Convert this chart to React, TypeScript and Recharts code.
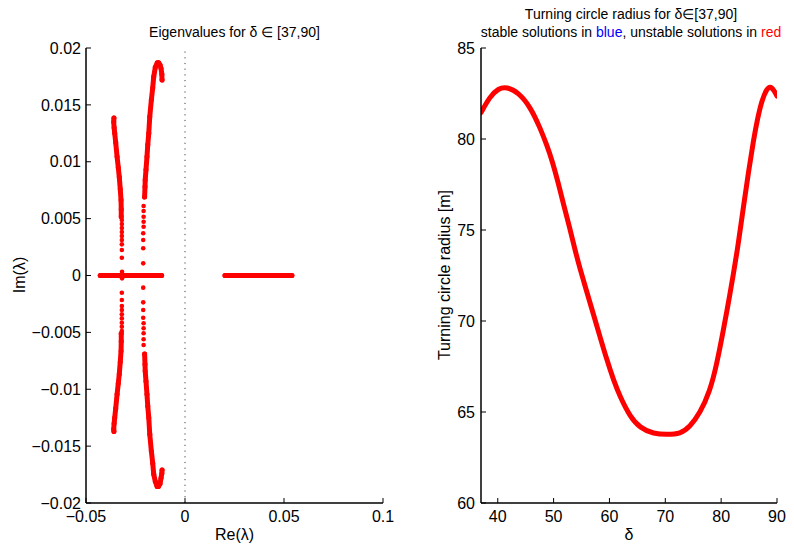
import React from 'react';
import {
  ScatterChart, Scatter, LineChart, Line, XAxis, YAxis, ReferenceLine,
} from 'recharts';

const FONT = '"Liberation Sans", Arial, Helvetica, sans-serif';
const RED = '#ff0000';

// ---------- Left plot: eigenvalues (Re, Im) ----------
const realBarNeg: [number, number][] = [[-0.0428, 0], [-0.0118, 0]];
const realBarPos: [number, number][] = [[0.0202, 0], [0.054, 0]];

const leftBranchUpperDense: [number, number][] = [
  [-0.0322, 0.00517], [-0.0322, 0.0058], [-0.0323, 0.00663], [-0.0327, 0.0076],
  [-0.0332, 0.00868], [-0.0337, 0.0095], [-0.0343, 0.01044], [-0.035, 0.0117],
  [-0.0355, 0.0125], [-0.0358, 0.013], [-0.036, 0.0135], [-0.0359, 0.01384],
];
const leftBranchLowerDense: [number, number][] = [
  [-0.0322, -0.0051], [-0.0322, -0.0058], [-0.0323, -0.00663], [-0.0327, -0.0076],
  [-0.0332, -0.00868], [-0.0337, -0.0095], [-0.0343, -0.01044], [-0.035, -0.0117],
  [-0.0355, -0.0125], [-0.0358, -0.013], [-0.036, -0.0135], [-0.0359, -0.01372],
];
const leftBranchSparse: [number, number][] = [
  [-0.0319, 0.00488], [-0.0319, 0.00453], [-0.0319, 0.00418], [-0.0319, 0.00383],
  [-0.0319, 0.00347], [-0.0319, 0.00312], [-0.0319, 0.00274], [-0.0319, 0.00224],
  [-0.0319, 0.00156], [-0.0318, 0.00033], [-0.0318, -0.00025], [-0.0319, -0.00151],
  [-0.0319, -0.00215], [-0.0319, -0.00268], [-0.0319, -0.00303], [-0.0319, -0.00341],
  [-0.0319, -0.00377], [-0.0319, -0.00415], [-0.0319, -0.0045], [-0.0319, -0.00488],
];

const rightBranchUpperDense: [number, number][] = [
  [-0.0204, 0.0069], [-0.0202, 0.0078], [-0.0201, 0.00839], [-0.0197, 0.0093],
  [-0.0192, 0.01044], [-0.0188, 0.0115], [-0.0183, 0.0125], [-0.0178, 0.01396],
  [-0.017, 0.01542], [-0.0163, 0.0165], [-0.0158, 0.01747], [-0.015, 0.0183],
  [-0.014, 0.0187], [-0.0133, 0.0187], [-0.0126, 0.0185], [-0.0121, 0.0182],
  [-0.0117, 0.0177], [-0.0116, 0.01718],
];
const rightBranchLowerDense: [number, number][] = [
  [-0.0204, -0.0069], [-0.0202, -0.0078], [-0.0201, -0.00839], [-0.0197, -0.0093],
  [-0.0192, -0.01044], [-0.0188, -0.0115], [-0.0183, -0.0125], [-0.0178, -0.01396],
  [-0.017, -0.01542], [-0.0163, -0.0165], [-0.0158, -0.01747], [-0.015, -0.0181],
  [-0.0141, -0.01855], [-0.0134, -0.01855], [-0.0126, -0.0183], [-0.0121, -0.0178],
  [-0.0117, -0.0174], [-0.0116, -0.01709],
];
const rightBranchSparse: [number, number][] = [
  [-0.0209, 0.00611], [-0.0209, 0.00567], [-0.0209, 0.00517], [-0.0209, 0.00473],
  [-0.0209, 0.00429], [-0.0211, 0.00371], [-0.0211, 0.00312], [-0.0211, 0.00239],
  [-0.0211, 0.00107], [-0.0211, -0.00107], [-0.0211, -0.00236], [-0.0211, -0.00303],
  [-0.0211, -0.00371], [-0.0209, -0.0042], [-0.0209, -0.00464], [-0.0209, -0.00508],
  [-0.0209, -0.00561], [-0.0209, -0.00611],
];

const eigXTicks = [-0.05, 0, 0.05, 0.1];
const eigYTicks = [-0.02, -0.015, -0.01, -0.005, 0, 0.005, 0.01, 0.015, 0.02];

// ---------- Right plot: turning circle radius vs delta ----------
const deltaValues = [
  37, 38.6, 40.1, 41.6, 43.7, 45.8, 47.6, 48.8, 49.7, 50.8, 51.7, 52.9, 53.8,
  54.7, 55.9, 57.1, 58.3, 59.5, 60.7, 61.9, 63.7, 65.5, 67.9, 70.3, 72.7, 74.4,
  76.2, 78.0, 79.2, 80.4, 81.3, 82.2, 82.9, 83.4, 84.1, 84.9, 85.8, 86.5, 87.3,
  88.2, 88.9, 89.6, 90,
];
const radiusValues = [
  81.45, 82.33, 82.78, 82.87, 82.55, 81.78, 80.6, 79.65, 78.85, 77.62, 76.5, 75.1, 73.95,
  72.9, 71.65, 70.4, 69.14, 67.9, 66.78, 65.84, 64.74, 64.12, 63.8, 63.76, 63.8, 64.19,
  64.93, 66.15, 67.6, 69.5, 71.0, 72.6, 73.9, 75.0, 76.5, 78.2, 79.95, 81.1, 82.14,
  82.78, 82.91, 82.6, 82.36,
];
const deltaTicks = [40, 50, 60, 70, 80, 90];
const radiusTicks = [60, 65, 70, 75, 80, 85];

const toPts = (a: [number, number][]) => a.map(([x, y]) => ({ x, y }));
const radiusData = deltaValues.map((d, i) => ({ d, r: radiusValues[i] }));

const fmt = (v: number) => String(v).replace('-', '\u2212');
const blank = () => '';

const tickStyle = { fill: '#000', fontSize: 16, fontFamily: FONT };
const axisLineStyle = { stroke: '#000', strokeWidth: 1.5 };
const tickLineStyle = { stroke: '#000', strokeWidth: 1 };

const Dot = (p: any) => <circle cx={p.cx} cy={p.cy} r={2.3} fill={RED} />;
const NoDot = (p: any) => <circle cx={p.cx} cy={p.cy} r={2.5} fill={RED} />;

const denseLine = { stroke: RED, strokeWidth: 5, strokeLinecap: 'round', strokeLinejoin: 'round' } as any;

export default function App() {
  return (
    <div style={{ position: 'absolute', left: 0, top: 0, width: 794, height: 549, background: '#fff' }}>
      <div style={{ position: 'absolute', left: 0, top: 0 }}>
        <ScatterChart width={400} height={549} margin={{ top: 48, right: 17, bottom: 0, left: 0 }}>
          <XAxis
            type="number" dataKey="x" domain={[-0.05, 0.1]} ticks={eigXTicks} tickFormatter={fmt}
            height={46} tickSize={-5} tickMargin={13} allowDataOverflow interval={0}
            axisLine={axisLineStyle} tickLine={tickLineStyle} tick={tickStyle}
          />
          <XAxis
            xAxisId="top" orientation="top" type="number" domain={[-0.05, 0.1]} ticks={eigXTicks}
            tickFormatter={blank} height={0} tickSize={-5} allowDataOverflow interval={0}
            axisLine={axisLineStyle} tickLine={tickLineStyle} tick={tickStyle}
          />
          <YAxis
            type="number" dataKey="y" domain={[-0.02, 0.02]} ticks={eigYTicks} tickFormatter={fmt}
            width={86} tickSize={-5} tickMargin={10} allowDataOverflow interval={0}
            axisLine={axisLineStyle} tickLine={tickLineStyle} tick={tickStyle}
          />
          <YAxis
            yAxisId="right" orientation="right" type="number" domain={[-0.02, 0.02]} ticks={eigYTicks}
            tickFormatter={blank} width={0} tickSize={-5} allowDataOverflow interval={0}
            axisLine={axisLineStyle} tickLine={tickLineStyle} tick={tickStyle}
          />
          <ReferenceLine x={0} stroke="#444" strokeWidth={1} strokeDasharray="1.2 4.5" />
          <Scatter data={toPts(realBarNeg)} line={denseLine} lineType="joint" shape={NoDot} isAnimationActive={false} />
          <Scatter data={toPts(realBarPos)} line={denseLine} lineType="joint" shape={NoDot} isAnimationActive={false} />
          <Scatter data={toPts(leftBranchUpperDense)} line={denseLine} lineType="joint" shape={NoDot} isAnimationActive={false} />
          <Scatter data={toPts(leftBranchLowerDense)} line={denseLine} lineType="joint" shape={NoDot} isAnimationActive={false} />
          <Scatter data={toPts(leftBranchSparse)} shape={Dot} isAnimationActive={false} />
          <Scatter data={toPts(rightBranchUpperDense)} line={denseLine} lineType="joint" shape={NoDot} isAnimationActive={false} />
          <Scatter data={toPts(rightBranchLowerDense)} line={denseLine} lineType="joint" shape={NoDot} isAnimationActive={false} />
          <Scatter data={toPts(rightBranchSparse)} shape={Dot} isAnimationActive={false} />
        </ScatterChart>
      </div>
      <div style={{ position: 'absolute', left: 400, top: 0 }}>
        <LineChart width={394} height={549} data={radiusData} margin={{ top: 48, right: 17, bottom: 0, left: 0 }}>
          <XAxis
            type="number" dataKey="d" domain={[37, 90]} ticks={deltaTicks}
            height={46} tickSize={-5} tickMargin={13} allowDataOverflow interval={0}
            axisLine={axisLineStyle} tickLine={tickLineStyle} tick={tickStyle}
          />
          <XAxis
            xAxisId="top" orientation="top" type="number" dataKey="d" domain={[37, 90]} ticks={deltaTicks}
            tickFormatter={blank} height={0} tickSize={-5} allowDataOverflow interval={0}
            axisLine={axisLineStyle} tickLine={tickLineStyle} tick={tickStyle}
          />
          <YAxis
            type="number" domain={[60, 85]} ticks={radiusTicks}
            width={81} tickSize={-5} tickMargin={11} allowDataOverflow interval={0}
            axisLine={axisLineStyle} tickLine={tickLineStyle} tick={tickStyle}
          />
          <YAxis
            yAxisId="right" orientation="right" type="number" domain={[60, 85]} ticks={radiusTicks}
            tickFormatter={blank} width={0} tickSize={-5} allowDataOverflow interval={0}
            axisLine={axisLineStyle} tickLine={tickLineStyle} tick={tickStyle}
          />
          <Line
            type="basis" dataKey="r" stroke={RED} strokeWidth={5} dot={false}
            strokeLinecap="round" isAnimationActive={false}
          />
        </LineChart>
      </div>
      <svg
        width={794} height={549}
        style={{ position: 'absolute', left: 0, top: 0, pointerEvents: 'none' }}
        fontFamily={FONT}
      >
        <text x={234.5} y={37} fontSize={14} textAnchor="middle" fill="#000">
          Eigenvalues for δ ∈  [37,90]
        </text>
        <text x={234.5} y={540} fontSize={16} textAnchor="middle" fill="#000">Re(λ)</text>
        <text x={25} y={275} fontSize={16} textAnchor="middle" fill="#000" transform="rotate(-90 25 275)">
          Im(λ)
        </text>
        <text x={631} y={19} fontSize={14} textAnchor="middle" fill="#000">
          Turning circle radius for δ∈[37,90]
        </text>
        <text x={631} y={37} fontSize={14} textAnchor="middle" fill="#000">
          stable solutions in <tspan fill="#0000ff">blue</tspan>, unstable solutions in <tspan fill={RED}>red</tspan>
        </text>
        <text x={629} y={540} fontSize={16} textAnchor="middle" fill="#000">δ</text>
        <text x={450} y={275} fontSize={16} textAnchor="middle" fill="#000" transform="rotate(-90 450 275)">
          Turning circle radius [m]
        </text>
      </svg>
    </div>
  );
}
